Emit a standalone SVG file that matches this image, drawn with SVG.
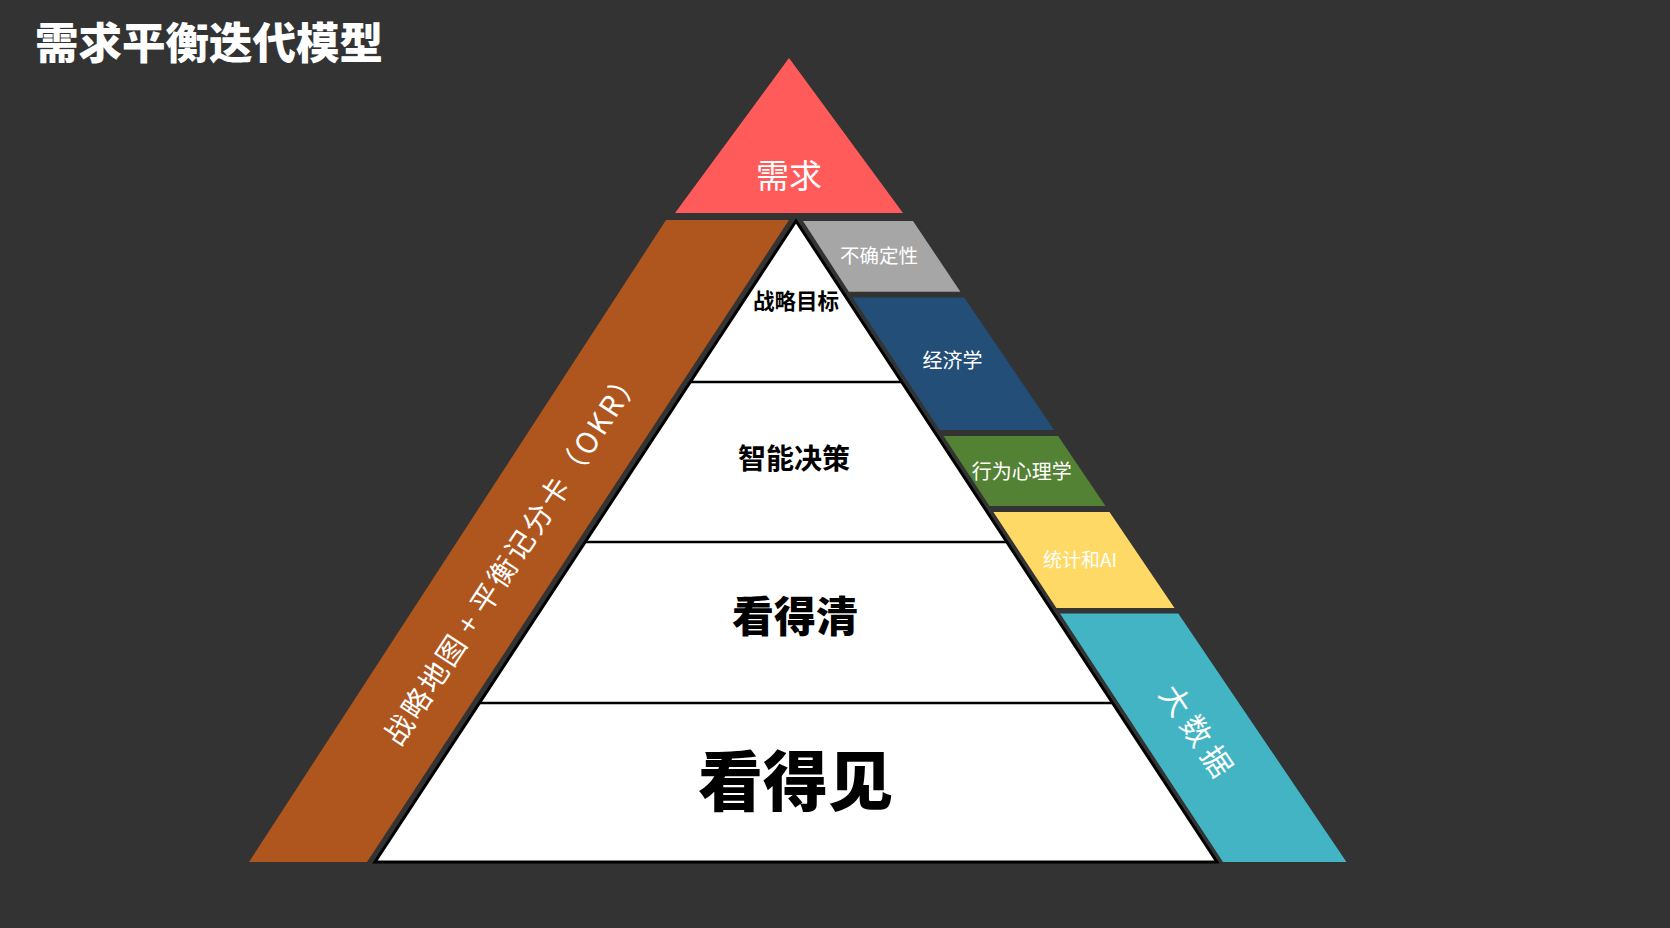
<svg xmlns="http://www.w3.org/2000/svg" width="1670" height="928" viewBox="0 0 1670 928">
  <style>
    text { font-family: "Noto Sans CJK SC", "Noto Sans", "Liberation Sans", sans-serif; }
    .w { fill: #ffffff; }
    .k { fill: #000000; }
    .c { text-anchor: middle; }
    .div { stroke: #000; stroke-width: 2.5; }
  </style>
  <rect x="0" y="0" width="1670" height="928" fill="#333333"/>

  <g id="title">
    <text x="35" y="59" class="w" font-size="43.5" font-weight="900">需求平衡迭代模型</text>
  </g>

  <g id="demand">
    <polygon points="789,58 675,213 903,213" fill="#FF5B5B"/>
    <text x="789" y="188" class="w c" font-size="33">需求</text>
  </g>

  <g id="strategy-band">
    <polygon points="666,220 789,220 367,862 249,862" fill="#AF561E"/>
    <g transform="translate(391.4,742.1) rotate(-56.8)">
      <text x="0" y="10.4" class="w" font-size="29" letter-spacing="2.6" word-spacing="-3">战略地图 + 平衡记分卡（OKR）</text>
    </g>
  </g>

  <g id="pyramid">
    <polygon points="796,221 375,862 1217,862" fill="#ffffff" stroke="#000" stroke-width="3" stroke-linejoin="miter"/>
    <line class="div" x1="690.3" y1="382" x2="901.7" y2="382"/>
    <line class="div" x1="585.2" y1="542" x2="1006.8" y2="542"/>
    <line class="div" x1="479.4" y1="703" x2="1112.6" y2="703"/>
  </g>

  <g id="level-goal">
    <text x="796" y="308.5" class="k c" font-size="21.5" font-weight="700">战略目标</text>
  </g>
  <g id="level-decision">
    <text x="794" y="469" class="k c" font-size="28" font-weight="700">智能决策</text>
  </g>
  <g id="level-clear">
    <text x="795" y="632" class="k c" font-size="42" font-weight="900">看得清</text>
  </g>
  <g id="level-visible">
    <text x="795.5" y="805" class="k c" font-size="65" font-weight="900">看得见</text>
  </g>

  <g id="uncertainty">
    <polygon points="803,221 913,221 960.4,291.7 848.9,291.7" fill="#A6A6A6"/>
    <text x="879" y="263" class="w c" font-size="19.5">不确定性</text>
  </g>
  <g id="economics">
    <polygon points="852.7,297.5 964.3,297.5 1054,430 939.6,430" fill="#224E78"/>
    <text x="952.5" y="368" class="w c" font-size="20">经济学</text>
  </g>
  <g id="behavior">
    <polygon points="943.6,436 1058.1,436 1105.5,506 989.5,506" fill="#548235"/>
    <text x="1021.7" y="478.5" class="w c" font-size="20">行为心理学</text>
  </g>
  <g id="stats-ai">
    <polygon points="993.4,512 1109.5,512 1174.5,608 1056.4,608" fill="#FFD966"/>
    <text x="1080" y="567" class="w c" font-size="19">统计和AI</text>
  </g>
  <g id="bigdata">
    <polygon points="1060,613.5 1178.3,613.5 1346.5,862 1223,862" fill="#43B4C4"/>
    <g transform="translate(1196,731) rotate(56)">
      <text x="3.4" y="10.8" class="w c" font-size="30" letter-spacing="6.8">大数据</text>
    </g>
  </g>
</svg>
